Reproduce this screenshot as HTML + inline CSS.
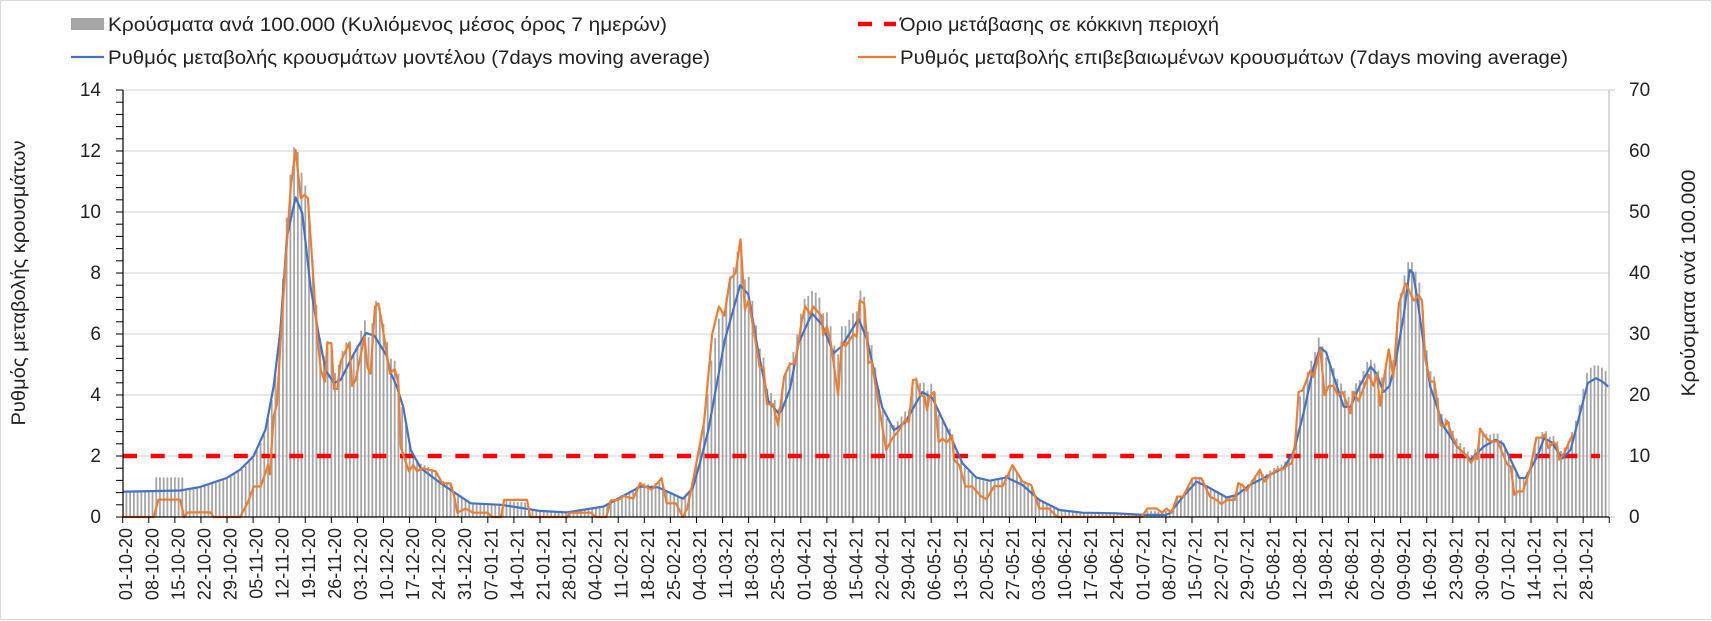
<!DOCTYPE html>
<html><head><meta charset="utf-8">
<style>
html,body{margin:0;padding:0;background:#fff;}
svg{display:block;}
text{font-family:"Liberation Sans",Arial,sans-serif;fill:#222;}
</style></head>
<body>
<svg id="c" width="1712" height="621" viewBox="0 0 1712 621" xmlns="http://www.w3.org/2000/svg">
<rect x="0.5" y="0.5" width="1711" height="619" fill="#fff" stroke="#d9d9d9"/>
<g id="grid"></g>
<g id="bars"></g>
<line x1="123" y1="456" x2="1600" y2="456" stroke="#ff0000" stroke-width="4.5" stroke-dasharray="14 13.7" stroke-linecap="butt"/>
<path id="blue" fill="none" stroke="#4472c4" stroke-width="2.2" stroke-linejoin="round"/>
<path id="orange" fill="none" stroke="#ed7d31" stroke-width="2.2" stroke-linejoin="round"/>
<g id="axes"></g>
<g font-size="19" text-anchor="end">
<text x="101" y="96">14</text><text x="101" y="157">12</text><text x="101" y="218">10</text>
<text x="101" y="279">8</text><text x="101" y="340">6</text><text x="101" y="401">4</text>
<text x="101" y="462">2</text><text x="101" y="523">0</text>
</g>
<g font-size="19" text-anchor="start">
<text x="1629" y="96">70</text><text x="1629" y="157">60</text><text x="1629" y="218">50</text>
<text x="1629" y="279">40</text><text x="1629" y="340">30</text><text x="1629" y="401">20</text>
<text x="1629" y="462">10</text><text x="1629" y="523">0</text>
</g>
<text font-size="19" text-anchor="middle" transform="translate(25,283) rotate(-90)" textLength="285" lengthAdjust="spacingAndGlyphs">Ρυθμός μεταβολής κρουσμάτων</text>
<text font-size="19" text-anchor="middle" transform="translate(1695,283) rotate(-90)" textLength="227" lengthAdjust="spacingAndGlyphs">Κρούσματα ανά 100.000</text>
<g id="xl" font-size="18" text-anchor="end">
<text>01-10-20</text><text>08-10-20</text><text>15-10-20</text><text>22-10-20</text><text>29-10-20</text>
<text>05-11-20</text><text>12-11-20</text><text>19-11-20</text><text>26-11-20</text><text>03-12-20</text>
<text>10-12-20</text><text>17-12-20</text><text>24-12-20</text><text>31-12-20</text><text>07-01-21</text>
<text>14-01-21</text><text>21-01-21</text><text>28-01-21</text><text>04-02-21</text><text>11-02-21</text>
<text>18-02-21</text><text>25-02-21</text><text>04-03-21</text><text>11-03-21</text><text>18-03-21</text>
<text>25-03-21</text><text>01-04-21</text><text>08-04-21</text><text>15-04-21</text><text>22-04-21</text>
<text>29-04-21</text><text>06-05-21</text><text>13-05-21</text><text>20-05-21</text><text>27-05-21</text>
<text>03-06-21</text><text>10-06-21</text><text>17-06-21</text><text>24-06-21</text><text>01-07-21</text>
<text>08-07-21</text><text>15-07-21</text><text>22-07-21</text><text>29-07-21</text><text>05-08-21</text>
<text>12-08-21</text><text>19-08-21</text><text>26-08-21</text><text>02-09-21</text><text>09-09-21</text>
<text>16-09-21</text><text>23-09-21</text><text>30-09-21</text><text>07-10-21</text><text>14-10-21</text>
<text>21-10-21</text><text>28-10-21</text>
</g>
<!-- legend -->
<rect x="71" y="18" width="33" height="12" fill="#a5a5a5"/>
<text x="108" y="31" font-size="19" textLength="559" lengthAdjust="spacingAndGlyphs">Κρούσματα ανά 100.000 (Κυλιόμενος μέσος όρος 7 ημερών)</text>
<line x1="71" y1="57" x2="104" y2="57" stroke="#4472c4" stroke-width="2.2"/>
<text x="108" y="64" font-size="19" textLength="602" lengthAdjust="spacingAndGlyphs">Ρυθμός μεταβολής κρουσμάτων μοντέλου (7days moving average)</text>
<line x1="858" y1="24" x2="872" y2="24" stroke="#ff0000" stroke-width="4.5"/>
<line x1="884" y1="24" x2="896" y2="24" stroke="#ff0000" stroke-width="4.5"/>
<text x="900" y="31" font-size="19" textLength="319" lengthAdjust="spacingAndGlyphs">Όριο μετάβασης σε κόκκινη περιοχή</text>
<line x1="858" y1="57" x2="896" y2="57" stroke="#ed7d31" stroke-width="2.2"/>
<text x="900" y="64" font-size="19" textLength="668" lengthAdjust="spacingAndGlyphs">Ρυθμός μεταβολής επιβεβαιωμένων κρουσμάτων (7days moving average)</text>
</svg>
<script>
(function(){
var NS="http://www.w3.org/2000/svg";
var X0=122.7,PD=3.726,Y0=517,PU=30.5;
function X(d){return X0+d*PD;}function Y(v){return Y0-v*PU;}
function el(t,a,p){var e=document.createElementNS(NS,t);for(var k in a)e.setAttribute(k,a[k]);p.appendChild(e);return e;}
var B=[0,.83,4.6,.84,15.4,.87,20.7,.98,27.9,1.28,31.5,1.55,35.1,1.99,38.3,2.86,40.5,4.28,42.3,6.1,44.1,9.2,46.4,10.48,48.2,9.96,50.4,7.55,52.7,5.9,54.5,4.8,56.7,4.39,58.5,4.5,62.1,5.37,65.3,6.03,67.5,5.95,70.8,5.3,72,4.7,73.5,4.3,75.3,3.6,77.3,2.2,80,1.6,85.4,1.1,93.4,.45,101.5,.4,112,.2,119,.15,129,.34,139,1.0,143.7,.97,150.4,.6,153,.95,155,1.8,157.2,2.85,161.6,5.8,165.7,7.6,167.9,7.3,170.6,5.4,173.3,3.8,176,3.4,176.9,3.5,179.1,4.2,181.4,5.7,185,6.68,187.7,6.3,190.8,5.37,193,5.6,197.5,6.5,199.8,5.8,203.8,3.6,207,2.85,210,3.1,214.6,4.1,217.3,3.9,221.8,2.74,225.4,1.76,229,1.3,232.7,1.19,237.2,1.3,241.5,1.05,246,.56,251.4,.23,257.6,.14,266.7,.12,273.8,.07,280,.07,281,.12,284.6,.67,288.2,1.16,291,1.0,296.3,.64,299,.72,302.5,1.05,306,1.27,311.5,1.6,314.2,2.1,316.9,3.4,319.6,4.9,321.4,5.55,323,5.4,325,4.6,327.7,3.62,329.5,3.6,332,4.3,334.9,4.93,336.5,4.7,338.4,4.1,340,4.3,341.5,5.0,343.8,6.6,345.4,8.1,346.3,8.0,347.4,7.2,349,5.8,350.9,4.28,354.5,2.97,358.1,2.31,361.7,1.88,365.3,2.31,368.5,2.53,370.5,2.4,374.8,1.28,376.5,1.28,379.7,2.0,381.5,2.59,383.5,2.45,386.4,1.92,388.6,2.2,393.2,4.39,395.4,4.55,397,4.45,398.7,4.28];
var O=[0,0,8.3,0,9.6,.57,15.4,.57,16.5,0,17.5,.15,23.5,.15,24.4,0,31.5,0,33.5,.46,35.2,1.0,37,1.0,38.3,1.44,39,1.7,39.5,1.4,40.5,3.3,41.4,3.7,42.3,5.6,43.7,8.3,45.1,10.8,46.4,12.03,47.8,10.45,48.8,10.56,49.7,10.45,50.9,8.3,52.2,5.9,53.2,4.8,54.3,4.44,54.9,5.7,56,5.7,56.7,4.2,57.6,4.2,58.5,5.1,60.8,5.7,61.6,4.3,62.5,4.5,64.9,5.9,65.7,4.9,66.5,4.7,67.7,6.9,68.6,7.0,69.5,6.4,71.7,4.7,73,4.85,74,4.4,74.6,2.3,76.8,1.5,78,1.7,79,1.5,80.3,1.6,84,1.5,85.8,1.1,88,1.1,89,.67,89.8,.14,92,.28,94,.14,98,.14,99,0,101.5,0,102.4,.56,108.5,.56,109.4,0,119.3,0,120,.14,125.6,.14,127,0,129.8,0,131,.54,133,.56,134.5,.69,137,.6,138.8,1.1,140,1.01,142,.9,144.6,1.27,146,.45,148.5,.45,149.5,.2,150.3,0,151.5,.28,153.3,1.33,156,3.1,158.2,6.0,160,6.9,161.5,6.6,163,7.8,164.5,8.0,165.8,9.1,167,6.8,168,7.1,169.5,6.0,171,4.9,172,4.9,172.9,3.7,174.5,3.7,175.9,3.0,177.5,4.6,179,5.0,180.5,5.05,182.3,6.45,183.2,6.9,184.5,6.65,185.4,6.9,186.7,6.7,187.5,6.6,188,5.95,189,6.25,190,5.75,192,4.0,193,5.75,194,5.6,196.2,6.0,197,5.9,197.8,7.1,199,7.0,200.2,5.05,201,5.1,203,3.6,204.9,2.2,206.5,2.57,208.3,2.84,210.1,3.2,211,3.1,212.1,4.5,213,4.5,214,4.0,215.2,3.95,215.9,3.5,216.5,3.95,217.7,4.1,219,2.45,220,2.57,221.2,2.45,222.6,2.68,223.1,1.87,224.5,1.7,226.2,1.0,228,1.0,230.3,.69,231.8,.58,233.9,1.01,236.2,1.01,238.8,1.7,241.5,1.16,243.8,1.05,246,.28,248.5,.28,250.9,0,273.4,0,275,.28,277.5,.28,279,.14,280.1,.28,281.5,.14,283,.67,284.6,.67,287.1,1.27,289.5,1.27,291.8,.67,293.5,.56,294.8,.43,296.5,.56,298.5,.56,299.4,1.11,300.5,1.05,301.6,.87,305.2,1.55,306.4,1.16,308,1.38,309.8,1.55,311.5,1.57,312.8,1.71,313.8,1.76,314.7,2.47,315.6,4.1,316.7,4.15,318.7,4.8,319.6,4.6,321.4,5.5,322.6,4.0,323.7,4.3,325,4.3,326.1,4.0,327.4,4.1,329.5,3.4,330.4,4.1,331.7,3.8,334.4,4.66,335.7,4.3,336.6,4.66,337.5,3.65,338.7,4.7,339.8,5.5,341,4.6,342.5,7.0,344.3,7.66,346.5,7.1,347.8,7.28,348.7,7.1,349.6,5.15,351,4.44,352,4.44,353.7,3.0,355,3.0,355.5,3.15,356.8,2.66,358.1,2.33,361,1.94,361.9,1.77,363,2.0,363.5,1.9,364.3,2.9,365.6,2.64,367,2.48,369,2.48,371.6,1.72,372.5,1.66,373.5,.73,374.5,.84,375.8,.84,377.8,1.6,379.4,2.6,380.8,2.6,381.7,2.7,382.6,2.26,384,2.46,385,2.32,385.6,1.88,386.9,2.1,388.7,2.59,389.2,2.7];
function interp(a,d){if(d<=a[0])return a[1];for(var i=0;i<a.length-2;i+=2){if(d<=a[i+2]){var t=(d-a[i])/(a[i+2]-a[i]);return a[i+1]+t*(a[i+3]-a[i+1]);}}return a[a.length-1];}
function path(a){var s="";for(var i=0;i<a.length;i+=2)s+=(i?"L":"M")+X(a[i]).toFixed(1)+" "+Y(a[i+1]).toFixed(1);return s;}
document.getElementById("blue").setAttribute("d",path(B));
document.getElementById("orange").setAttribute("d",path(O));
var g=document.getElementById("grid");
for(var v=2;v<=14;v+=2)el("line",{x1:123,x2:1609,y1:Y(v),y2:Y(v),stroke:"#d9d9d9","stroke-width":1.3},g);
var bg=document.getElementById("bars");
for(var d=1;d<=398;d++){var b=interp(B,d),o=(d<390?interp(O,d):b);var h=Math.max(b*0.97,0.5*b+0.6*o);
 if(d>=9&&d<=16)h=1.3;
 el("rect",{x:X(d)-0.9,y:Y(h),width:1.8,height:h*PU,fill:"#a5a5a5"},bg);}
var ax=document.getElementById("axes");
el("line",{x1:123,x2:123,y1:Y(14),y2:517,stroke:"#000","stroke-width":1.2},ax);
el("line",{x1:1609,x2:1609,y1:Y(14),y2:517,stroke:"#bfbfbf","stroke-width":1.2},ax);
el("line",{x1:123,x2:1609,y1:517,y2:517,stroke:"#000","stroke-width":1.3},ax);
for(var i=0;i<=35;i++){var y=Y(i*0.4);el("line",{x1:116,x2:123,y1:y,y2:y,stroke:"#000","stroke-width":1},ax);}
el("line",{x1:1609,x2:1615,y1:Y(14),y2:Y(14),stroke:"#bfbfbf"},ax);
el("line",{x1:1609,x2:1615,y1:517,y2:517,stroke:"#bfbfbf"},ax);
var TS=26.08;
for(var i=0;i<=57;i++){var x=X0+TS*i;if(x>1610)break;el("line",{x1:x,x2:x,y1:517,y2:523,stroke:"#000","stroke-width":1},ax);}
var xl=document.getElementById("xl").getElementsByTagName("text");
for(var i=0;i<xl.length;i++){xl[i].setAttribute("transform","translate("+(X0+TS*i+9.5).toFixed(1)+",528) rotate(-90)");}
})();
</script>
</body></html>
